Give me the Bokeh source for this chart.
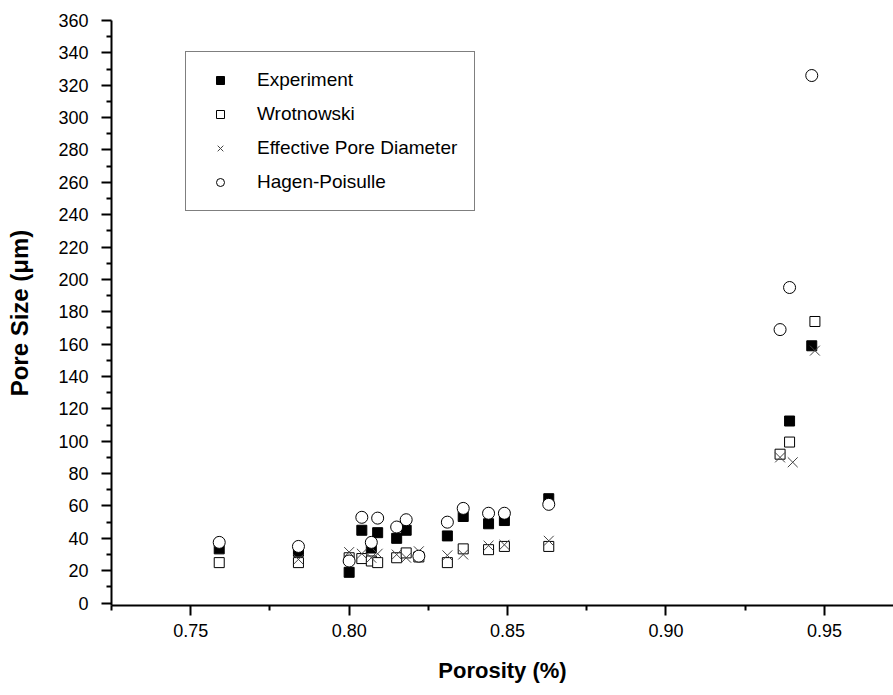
from bokeh.plotting import figure
from bokeh.models import Range1d, Legend, LegendItem, FixedTicker
from bokeh.embed import file_html
from bokeh.resources import INLINE

# ---- data ----
exp_por = [0.759, 0.784, 0.800, 0.804, 0.807, 0.809, 0.815, 0.818, 0.831, 0.836, 0.844, 0.849, 0.863, 0.939, 0.946]
exp_size = [33.5, 32, 19, 45, 34, 43.5, 40, 45, 41.5, 53.5, 49, 51, 64.5, 112.5, 159]

wrot_por = [0.759, 0.784, 0.800, 0.804, 0.807, 0.809, 0.815, 0.818, 0.822, 0.831, 0.836, 0.844, 0.849, 0.863, 0.936, 0.939, 0.947]
wrot_size = [25, 25, 28, 27.5, 26, 25, 28, 31, 28.5, 25, 33.5, 33, 35, 35, 92, 99.5, 174]

eff_por = [0.784, 0.800, 0.804, 0.807, 0.809, 0.815, 0.818, 0.822, 0.831, 0.836, 0.844, 0.849, 0.863, 0.936, 0.940, 0.947]
eff_size = [27, 31.5, 30.5, 28, 30.5, 30, 28, 32, 29.5, 30, 35.5, 36, 38.5, 90, 87, 156]

hag_por = [0.759, 0.784, 0.800, 0.804, 0.807, 0.809, 0.815, 0.818, 0.822, 0.831, 0.836, 0.844, 0.849, 0.863, 0.936, 0.939, 0.946]
hag_size = [37.5, 35, 26, 53, 37.5, 52.5, 47, 51.5, 29, 50, 58.5, 55.5, 55.5, 61, 169, 195, 326]

x_ticks = [0.75, 0.80, 0.85, 0.90, 0.95]
y_ticks = list(range(0, 361, 20))

FONT = "Liberation Sans"

p = figure(width=893, height=695, output_backend="svg", toolbar_location=None,
           x_range=Range1d(0.725, 0.9718), y_range=Range1d(-1.5, 360),
           min_border_left=111, min_border_right=0, min_border_top=20, min_border_bottom=90)
p.outline_line_color = None
p.grid.visible = False
p.background_fill_color = "white"
p.border_fill_color = "white"

r_exp = p.scatter(exp_por, exp_size, marker="square", size=10, fill_color="black", line_color="black")
r_wrot = p.scatter(wrot_por, wrot_size, marker="square", size=10, fill_color="white", line_color="black", line_width=1)
r_eff = p.scatter(eff_por, eff_size, marker="x", size=14, line_color="#444444", line_width=1)
r_hag = p.scatter(hag_por, hag_size, marker="circle", size=12, fill_color="white", line_color="black", line_width=1)

for ax in (p.xaxis[0], p.yaxis[0]):
    ax.axis_line_width = 2
    ax.major_tick_line_width = 2
    ax.minor_tick_line_width = 2
    ax.major_tick_out = 10
    ax.major_tick_in = 0
    ax.minor_tick_out = 5
    ax.minor_tick_in = 0
    ax.major_label_text_font = FONT
    ax.major_label_text_font_size = "18px"
    ax.major_label_text_color = "black"
    ax.axis_label_text_font = FONT
    ax.axis_label_text_font_style = "bold"
    ax.axis_label_text_color = "black"

p.xaxis[0].ticker = FixedTicker(ticks=x_ticks, minor_ticks=[0.725, 0.775, 0.825, 0.875, 0.925, 0.975])
p.xaxis[0].major_label_overrides = {t: f"{t:.2f}" for t in x_ticks}
p.xaxis[0].axis_label = "Porosity (%)"
p.xaxis[0].axis_label_text_font_size = "22px"
p.xaxis[0].major_label_standoff = 8
p.xaxis[0].axis_label_standoff = 18

p.yaxis[0].ticker = FixedTicker(ticks=y_ticks, minor_ticks=list(range(10, 360, 20)))
p.yaxis[0].axis_label = "Pore Size (μm)"
p.yaxis[0].axis_label_text_font_size = "24px"
p.yaxis[0].major_label_standoff = 13
p.yaxis[0].axis_label_standoff = 22

legend = Legend(items=[
    LegendItem(label="Experiment", renderers=[r_exp]),
    LegendItem(label="Wrotnowski", renderers=[r_wrot]),
    LegendItem(label="Effective Pore Diameter", renderers=[r_eff]),
    LegendItem(label="Hagen-Poisulle", renderers=[r_hag]),
], location=(74, 394))
legend.label_text_font = FONT
legend.label_text_font_size = "19px"
legend.label_text_color = "black"
legend.glyph_width = 34
legend.glyph_height = 20
legend.label_height = 20
legend.spacing = 12
legend.padding = 17
legend.margin = 0
legend.label_standoff = 20
legend.border_line_color = "black"
legend.border_line_width = 1
legend.background_fill_color = "white"
legend.background_fill_alpha = 1
p.add_layout(legend, "center")

open("out.html", "w").write(file_html(p, INLINE))
